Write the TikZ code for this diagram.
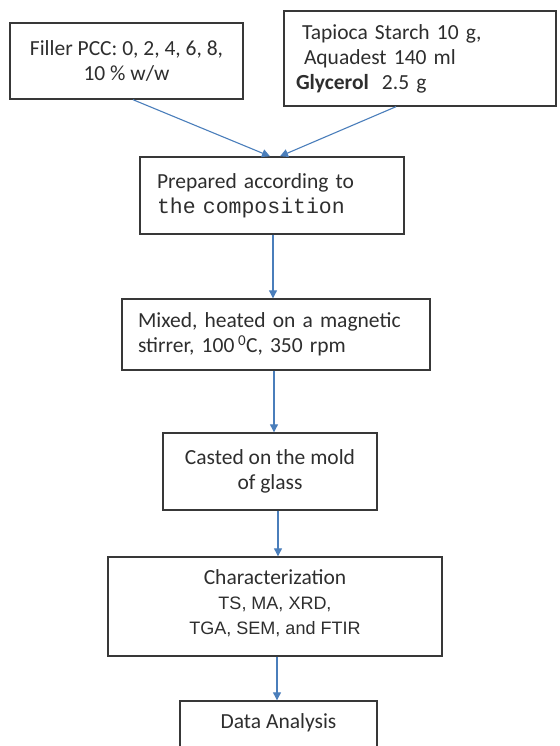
\documentclass[tikz,border=0pt]{standalone}
\usepackage{fontspec}
\setmainfont{Carlito}
\newfontfamily\monof{Liberation Mono}
\newfontfamily\arialf{Liberation Sans}
\usetikzlibrary{arrows.meta}
\definecolor{arrowblue}{HTML}{4A7EBB}
\definecolor{boxgray}{HTML}{383838}
\definecolor{txtgray}{HTML}{2E2E2E}
\newcommand\arsmall{\arialf\fontsize{18}{25}\selectfont}
\begin{document}
\begin{tikzpicture}[x=1pt,y=-1pt,
  box/.style={draw=boxgray, line width=1.4pt, text=txtgray,
    font=\fontsize{21.5}{25}\selectfont, inner sep=0pt},
  txt/.style={text=txtgray, font=\fontsize{21.5}{25}\selectfont, inner sep=0pt},
  flow/.style={draw=arrowblue, line width=1.1pt, -{Triangle[length=8pt,width=8pt]}}]
\useasboundingbox (0,0) rectangle (559,746);
\clip (0,0) rectangle (559,746);
\fill[white] (0,0) rectangle (559,746);

\node[box, minimum width=233pt, minimum height=76pt, align=center] (filler) at (126.5,61)
  {Filler PCC: 0, 2, 4, 6, 8,\\10 \% w/w};
\node[box, inner xsep=12pt, text width=248pt, minimum height=95pt, align=left] (tap) at (420,58.5)
  {\hspace*{6pt}Tapioca Starch 10 g,\\\hspace*{8pt}Aquadest 140 ml\\\textbf{Glycerol}\hspace{13pt}2.5 g};
\node[box, inner xsep=17pt, text width=230pt, minimum height=77pt, align=left] (prep) at (272,195.5)
  {Prepared according to\\{\monof the composition}};
\node[box, inner xsep=16pt, text width=276pt, minimum height=71pt, align=left] (mix) at (276,334.5)
  {Mixed, heated on a magnetic\\stirrer, 100\,\textsuperscript{0}C, 350 rpm};
\node[box, minimum width=214pt, minimum height=77pt, align=center] (cast) at (270,471.5)
  {Casted on the mold\\of glass};
\node[box, minimum width=334pt, minimum height=99pt] (charb) at (275,606.5) {};
\node[txt, align=center] (chart) at (275,603)
  {Characterization\\{\arsmall TS, MA, XRD,}\\{\arsmall TGA, SEM, and FTIR}};
\node[box, minimum width=197pt, minimum height=56pt] (data) at (278.5,729) {};
\node[txt] (datat) at (278.5,723) {Data Analysis};

\draw[flow] ([xshift=6.5pt]filler.south) -- ([xshift=-2pt]prep.north);
\draw[flow] ([xshift=-24pt]tap.south) -- ([xshift=8pt]prep.north);
\draw[flow] ([xshift=1pt]prep.south) -- ([xshift=1pt]prep.south |- mix.north);
\draw[flow] ([xshift=-2pt]mix.south) -- ([xshift=-2pt]mix.south |- cast.north);
\draw[flow] ([xshift=8pt]cast.south) -- ([xshift=8pt]cast.south |- charb.north);
\draw[flow] ([xshift=2pt]charb.south) -- ([xshift=2pt]charb.south |- data.north);
\end{tikzpicture}
\end{document}
